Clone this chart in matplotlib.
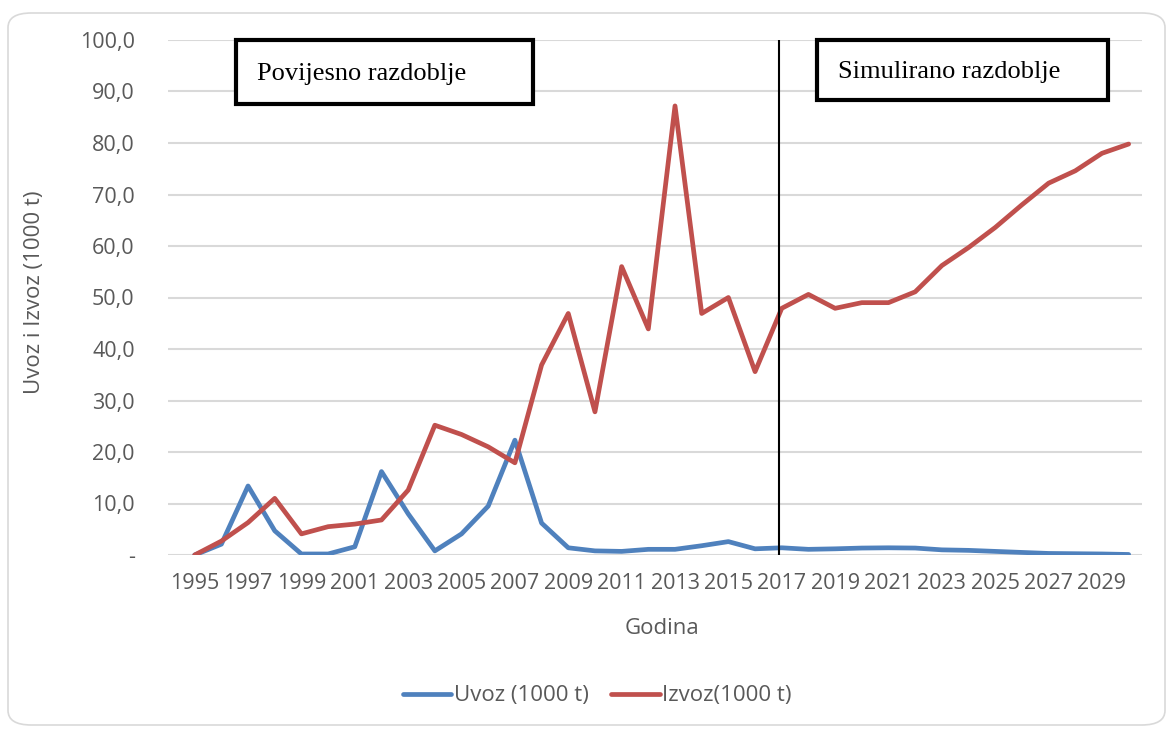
import matplotlib
matplotlib.use("Agg")
import matplotlib.pyplot as plt
from matplotlib.patches import FancyBboxPatch, Rectangle
from matplotlib.ticker import FixedLocator, FuncFormatter

years = list(range(1995, 2031))
uvoz = [0.0, 2.1, 13.4, 4.7, 0.2, 0.2, 1.6, 16.2, 8.0, 0.8, 4.1, 9.5, 22.3, 6.2,
        1.4, 0.8, 0.7, 1.1, 1.1, 1.8, 2.6, 1.2, 1.4, 1.1, 1.2, 1.35, 1.4, 1.35,
        1.0, 0.9, 0.7, 0.5, 0.3, 0.25, 0.2, 0.1]
izvoz = [0.0, 2.7, 6.3, 11.0, 4.1, 5.5, 6.0, 6.8, 12.6, 25.2, 23.4, 21.0, 17.9, 36.9,
         46.9, 27.8, 56.0, 43.9, 87.2, 46.9, 50.0, 35.6, 47.9, 50.6, 47.9, 49.0, 49.0, 51.1,
         56.2, 59.7, 63.6, 68.0, 72.2, 74.6, 78.0, 79.8]
xtick_years = list(range(1995, 2031, 2))
yticks = [0, 10, 20, 30, 40, 50, 60, 70, 80, 90, 100]
split_year = 2016.9
series_labels = ["Uvoz (1000 t)", "Izvoz(1000 t)"]
box_labels = ["Povijesno razdoblje", "Simulirano razdoblje"]

W, H = 1169, 729
fig = plt.figure(figsize=(W / 100, H / 100), dpi=100)
fig.patch.set_facecolor("white")

# outer rounded border
border = FancyBboxPatch((8 / W, 4 / H), (1157) / W, (712) / H,
                        boxstyle="round,pad=0,rounding_size=0.02",
                        transform=fig.transFigure, fill=False,
                        edgecolor="#D9D9D9", linewidth=1.2)
fig.patches.append(border)

ax = fig.add_axes([168 / W, (H - 555) / H, (1142 - 168) / W, (555 - 40) / H])
ax.set_xlim(1994.0, 2030.5)
ax.set_ylim(0, 100)

ax.plot(years, uvoz, color="#4F81BD", lw=3.4, solid_capstyle="round",
        solid_joinstyle="round", label=series_labels[0], zorder=3)
ax.plot(years, izvoz, color="#C0504D", lw=3.4, solid_capstyle="round",
        solid_joinstyle="round", label=series_labels[1], zorder=3)

ax.axvline(split_year, ymin=0, ymax=1, color="black", lw=1.5, zorder=4)

for s in ax.spines.values():
    s.set_visible(False)
ax.yaxis.set_major_locator(FixedLocator(yticks))
ax.yaxis.set_major_formatter(FuncFormatter(
    lambda v, p: "-" if v == 0 else f"{v:.1f}".replace(".", ",")))
ax.set_xticks(xtick_years)
ax.set_xticklabels([str(y) for y in xtick_years])
ax.grid(axis="y", color="#D9D9D9", lw=1.5, zorder=0)
ax.set_axisbelow(True)
ax.tick_params(axis="both", length=0, labelcolor="#595959", labelsize=15.5)
ax.tick_params(axis="y", pad=24)
ax.tick_params(axis="x", pad=13)
for lab in ax.get_xticklabels() + ax.get_yticklabels():
    lab.set_fontfamily("Open Sans")

ax.set_xlabel("Godina", fontfamily="Open Sans", fontsize=16, color="#595959")
ax.set_ylabel("Uvoz i Izvoz (1000 t)", fontfamily="Open Sans", fontsize=16,
              color="#595959")
ax.xaxis.set_label_coords((662 - 168) / 974, (555 - 628) / 515)
ax.xaxis.label.set_verticalalignment("center")
ax.yaxis.set_label_coords((35 - 168) / 974, (555 - 292) / 515)
ax.yaxis.label.set_verticalalignment("center")
ax.yaxis.label.set_horizontalalignment("center")

# text boxes
for (x0, y0, x1, y1), txt in zip([(236, 40, 533, 104), (817, 40, 1108, 100)], box_labels):
    r = Rectangle((x0 / W, 1 - y1 / H), (x1 - x0) / W, (y1 - y0) / H,
                  transform=fig.transFigure, facecolor="white",
                  edgecolor="black", linewidth=3, zorder=5)
    fig.patches.append(r)
    fig.text((x0 + 21) / W, 1 - ((y0 + y1) / 2 + 2) / H, txt,
             fontfamily="Liberation Serif", fontsize=19, color="black",
             ha="left", va="center", zorder=6)

fig.legend(loc="center", bbox_to_anchor=(597 / W, 1 - 696 / H), ncol=2,
           frameon=False, prop={"family": "Open Sans", "size": 16},
           labelcolor="#595959", handlelength=2.2, handletextpad=0.1,
           columnspacing=1.0)

fig.savefig("out.png", dpi=100, facecolor="white")
